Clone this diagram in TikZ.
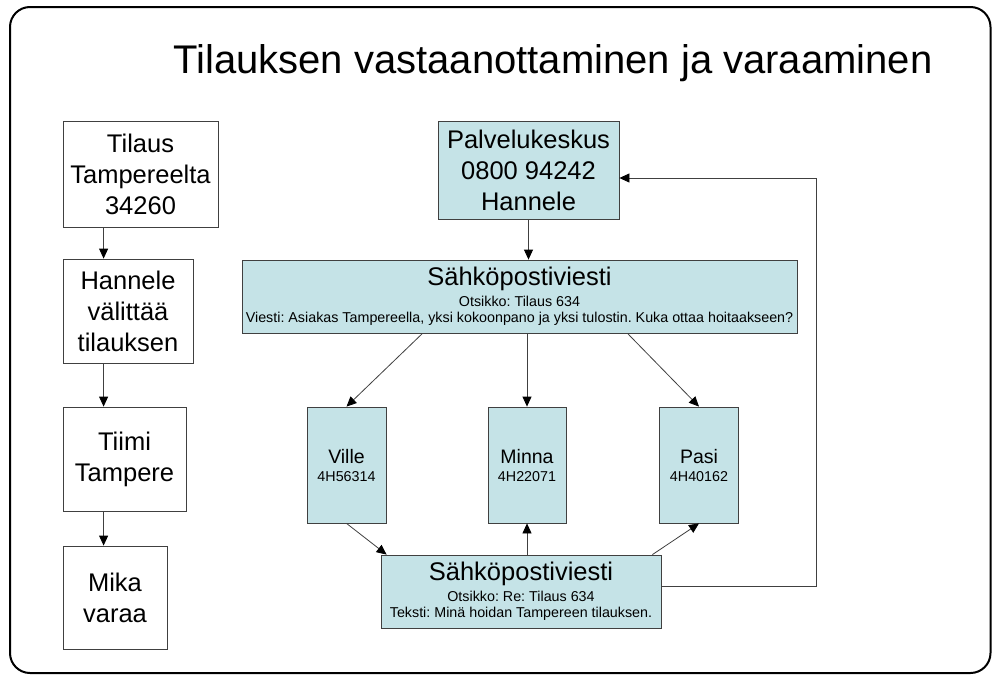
\documentclass[tikz,border=0pt]{standalone}
\usepackage{fontspec}
\setmainfont{Liberation Sans}
\usetikzlibrary{arrows.meta}
\definecolor{mailblue}{RGB}{197,227,231}
\definecolor{edgegray}{RGB}{64,64,64}
\newcommand{\bigtxt}{\fontsize{25.5}{31}\selectfont}
\newcommand{\smalltxt}{\fontsize{14.3}{16}\selectfont}
\newcommand{\midtxt}{\fontsize{19.5}{22}\selectfont}
\tikzstyle{whitebox} = [rectangle, draw=edgegray, line width=0.8pt, fill=white, align=center, inner sep=0pt, font=\bigtxt]
\tikzstyle{bluebox} = [whitebox, fill=mailblue]
\tikzstyle{mailbox} = [bluebox, font=\smalltxt]
\tikzstyle{link} = [draw=edgegray, line width=0.8pt, -{Triangle[length=10pt,width=9pt,color=black]}]
\frenchspacing

\begin{document}
\begin{tikzpicture}[x=1pt,y=-1pt]
			\useasboundingbox (0,0) rectangle (992,675);
			\draw[line width=2pt, rounded corners=20pt] (10,7) rectangle (990.5,673);
			\node[font=\fontsize{40}{48}\selectfont, anchor=base] (title) at (553,73) {Tilauksen vastaanottaminen ja varaaminen};
			\node[whitebox, minimum width=155pt, minimum height=106pt] (order) at (140.5,174) {Tilaus\\Tampereelta\\34260};
			\node[whitebox, minimum width=130pt, minimum height=104pt] (relay) at (128,311) {Hannele\\välittää\\tilauksen};
			\node[whitebox, minimum width=123pt, minimum height=104pt] (team) at (124.5,459) {Tiimi\\Tampere};
			\node[whitebox, minimum width=104pt, minimum height=103pt] (mika) at (115,597.5) {Mika\\varaa};
			\draw[link] ([xshift=41pt]order.south west) -- ([xshift=41pt]relay.north west);
			\draw[link] ([xshift=41pt]relay.south west) -- ([xshift=41pt]team.north west);
			\draw[link] ([xshift=41pt]team.south west) -- ([xshift=41pt]mika.north west);
			\node[bluebox, minimum width=181pt, minimum height=98pt] (desk) at (528.5,170) {Palvelukeskus\\0800 94242\\Hannele};
			\node[mailbox, minimum width=555pt, minimum height=73pt] (query) at (519.5,296.5) {\bigtxt Sähköpostiviesti\\[5pt]Otsikko: Tilaus 634\\Viesti: Asiakas Tampereella, yksi kokoonpano ja yksi tulostin. Kuka ottaa hoitaakseen?};
			\node[mailbox, minimum width=79pt, minimum height=116pt] (ville) at (346.5,465) {\midtxt Ville\\[2pt]4H56314};
			\node[mailbox, minimum width=78pt, minimum height=116pt] (minna) at (527,465) {\midtxt Minna\\[2pt]4H22071};
			\node[mailbox, minimum width=79pt, minimum height=116pt] (pasi) at (699,465) {\midtxt Pasi\\[2pt]4H40162};
			\node[mailbox, minimum width=280pt, minimum height=73pt] (reply) at (521,591.5) {\bigtxt Sähköpostiviesti\\[5pt]Otsikko: Re: Tilaus 634\\Teksti: Minä hoidan Tampereen tilauksen.};
			\coordinate (loop) at (816,586);
			\draw[link] (desk.south) -- (desk.south |- query.north);
			\draw[link] ([xshift=-97pt]query.south) -- (ville.north);
			\draw[link] (query.south -| minna.north) -- (minna.north);
			\draw[link] ([xshift=108pt]query.south) -- (pasi.north);
			\draw[link] (ville.south) -- ([xshift=6pt]reply.north west);
			\draw[link] (reply.north -| minna.south) -- (minna.south);
			\draw[link] ([xshift=-9pt]reply.north east) -- (pasi.south);
			\draw[link] (reply.east |- loop) -- (loop) |- ([yshift=-8pt]desk.east);
		\end{tikzpicture}
\end{document}
